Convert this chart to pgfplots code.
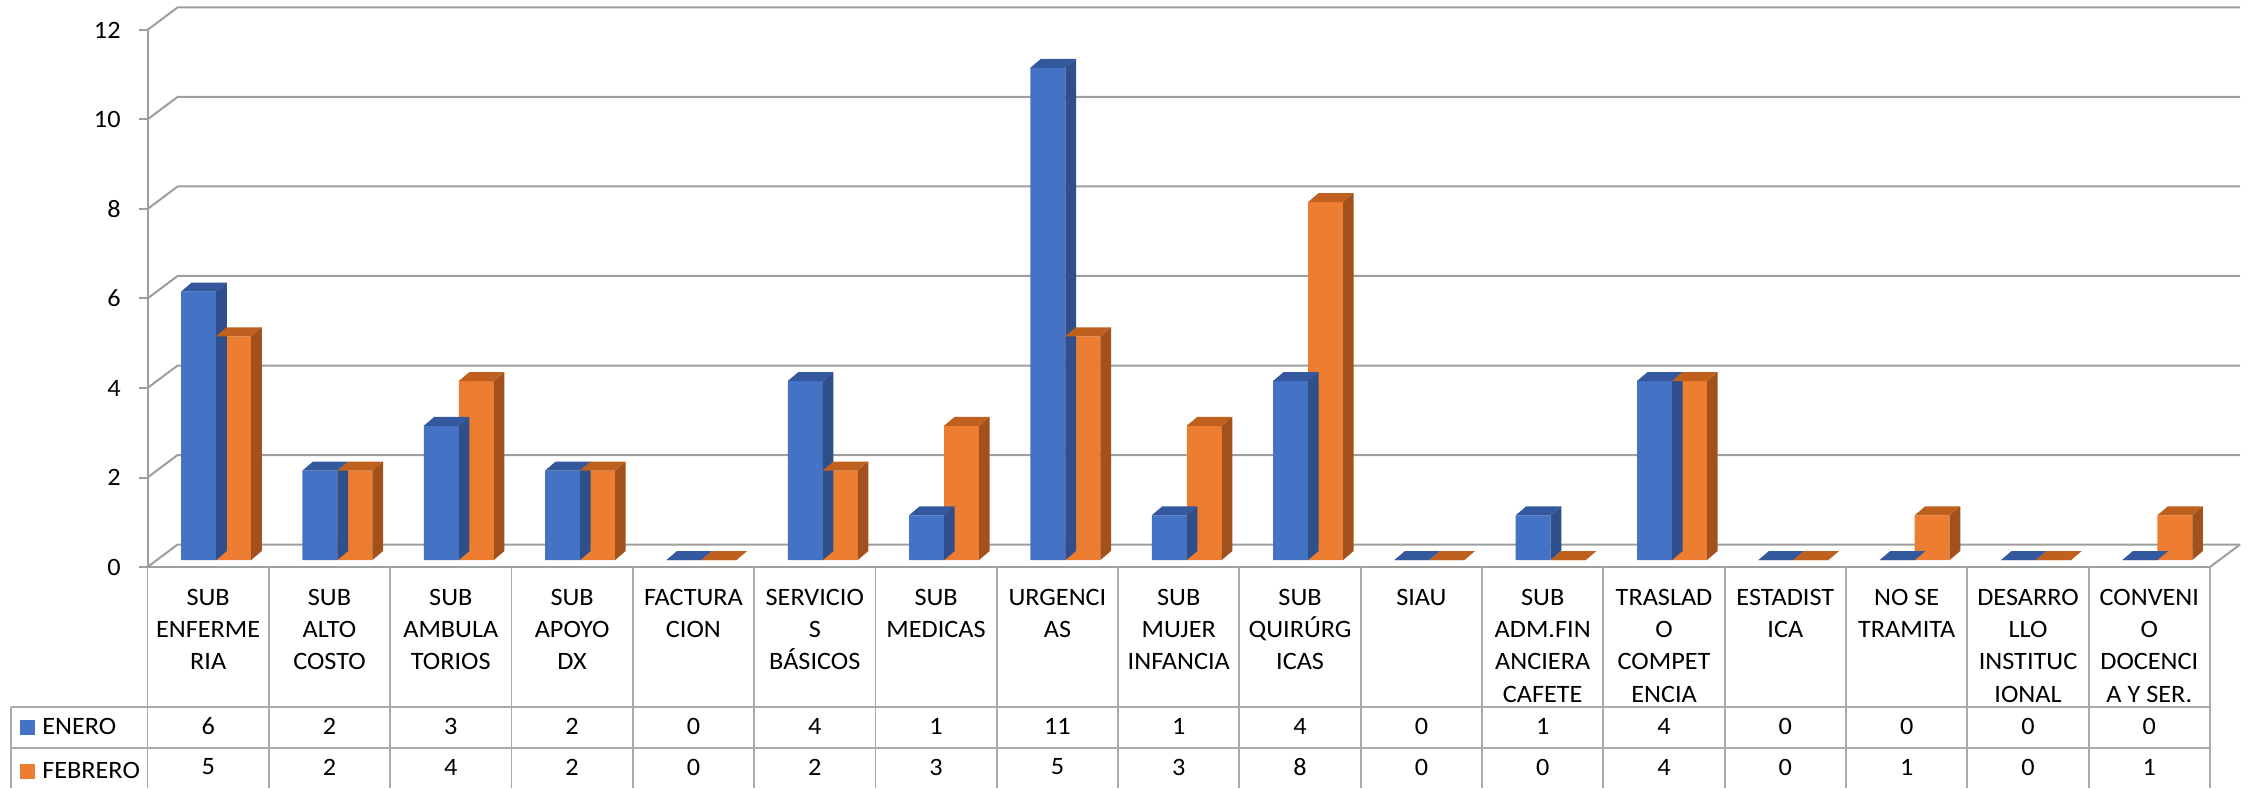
\documentclass[border=0pt]{standalone}
\usepackage{fontspec}
\setmainfont{Carlito}[FakeStretch=1.05]
\usepackage{pgfplots}
\usepackage{pgfplotstable}
\pgfplotsset{compat=1.18}
\pgfplotsset{/pgf/number format/assume math mode=true}

\definecolor{blueF}{HTML}{4472C4}
\definecolor{blueSide}{HTML}{2F4F8A}
\definecolor{blueTop}{HTML}{34589E}
\definecolor{orangeF}{HTML}{ED7D31}
\definecolor{orangeSide}{HTML}{A2511D}
\definecolor{orangeTop}{HTML}{C0601F}
\definecolor{gridgray}{HTML}{9E9E9E}
\definecolor{tabgray}{HTML}{AAAAAA}

\newcommand\cf{\fontsize{12.5}{16.2}\selectfont}

% 3D side and top faces of a bar, drawn at the data point (top of the bar)
\pgfdeclareplotmark{cubeA}{%
  \pgfmathsetmacro\hh{\hv*22.375}%
  \pgfsetfillcolor{blueSide}%
  \pgfpathmoveto{\pgfqpoint{0pt}{0pt}}%
  \pgfpathlineto{\pgfqpoint{5.3pt}{4.5pt}}%
  \pgfpathlineto{\pgfpoint{5.3pt}{4.5pt-\hh pt}}%
  \pgfpathlineto{\pgfpoint{0pt}{-\hh pt}}%
  \pgfpathclose\pgfusepath{fill}%
  \pgfsetfillcolor{blueTop}%
  \pgfpathmoveto{\pgfqpoint{-17.5pt}{0pt}}%
  \pgfpathlineto{\pgfqpoint{0pt}{0pt}}%
  \pgfpathlineto{\pgfqpoint{5.3pt}{4.5pt}}%
  \pgfpathlineto{\pgfqpoint{-12.2pt}{4.5pt}}%
  \pgfpathclose\pgfusepath{fill}%
}
\pgfdeclareplotmark{cubeB}{%
  \pgfmathsetmacro\hh{\hv*22.375}%
  \pgfsetfillcolor{orangeSide}%
  \pgfpathmoveto{\pgfqpoint{17.5pt}{0pt}}%
  \pgfpathlineto{\pgfqpoint{22.8pt}{4.5pt}}%
  \pgfpathlineto{\pgfpoint{22.8pt}{4.5pt-\hh pt}}%
  \pgfpathlineto{\pgfpoint{17.5pt}{-\hh pt}}%
  \pgfpathclose\pgfusepath{fill}%
  \pgfsetfillcolor{orangeTop}%
  \pgfpathmoveto{\pgfqpoint{0pt}{0pt}}%
  \pgfpathlineto{\pgfqpoint{17.5pt}{0pt}}%
  \pgfpathlineto{\pgfqpoint{22.8pt}{4.5pt}}%
  \pgfpathlineto{\pgfqpoint{5.3pt}{4.5pt}}%
  \pgfpathclose\pgfusepath{fill}%
}

\pgfplotstableread{
x ene feb
0.5 6 5
1.5 2 2
2.5 3 4
3.5 2 2
4.5 0 0
5.5 4 2
6.5 1 3
7.5 11 5
8.5 1 3
9.5 4 8
10.5 0 0
11.5 1 0
12.5 4 4
13.5 0 0
14.5 0 1
15.5 0 0
16.5 0 1
}\datatable

\begin{document}
\begin{tikzpicture}
\useasboundingbox (0,0) rectangle (1124.5pt,394pt);

% frame axis: front y axis, floor, back wall gridlines, category labels, table values
\begin{axis}[
  name=A, at={(73.75pt,110.5pt)}, anchor=south west,
  scale only axis, width=1031.25pt, height=268.5pt,
  xmin=0, xmax=17, ymin=0, ymax=12,
  axis x line*=bottom, axis y line*=left,
  axis line style={draw=gridgray, line width=1pt, -},
  tick align=outside, major tick length=4.25pt,
  xtick={0.5,1.5,...,16.5},
  xticklabels={{SUB\\ENFERME\\RIA},{SUB\\ALTO\\COSTO},{SUB\\AMBULA\\TORIOS},{SUB\\APOYO\\DX},
    {FACTURA\\CION},{SERVICIO\\S\\BÁSICOS},{SUB\\MEDICAS},{URGENCI\\AS},{SUB\\MUJER\\INFANCIA},
    {SUB\\QUIRÚRG\\ICAS},{SIAU},{SUB\\ADM.FIN\\ANCIERA\\CAFETE},{TRASLAD\\O\\COMPET\\ENCIA},
    {ESTADIST\\ICA},{NO SE\\TRAMITA},{DESARRO\\LLO\\INSTITUC\\IONAL},{CONVENI\\O\\DOCENCI\\A Y SER.}},
  x tick style={draw=none},
  xticklabel style={font=\cf, align=center, anchor=north, inner sep=0pt, yshift=-6.5pt},
  ytick={0,2,...,12},
  y tick style={draw=gridgray, line width=1pt},
  yticklabel style={font=\cf, inner sep=0pt, anchor=east, xshift=-9pt},
  clip=false,
]
\pgfplotsinvokeforeach{0,2,...,12}{
  \draw[gridgray, line width=1pt] (axis cs:0,#1) -- ++(15pt,11.25pt) -- ([shift={(15pt,11.25pt)}]axis cs:17,#1);
}
\draw[gridgray, line width=1pt] (axis cs:17,0) -- ++(15pt,11.25pt);
\addplot[draw=none, mark=none, nodes near coords, point meta=explicit,
  nodes near coords align={center},
  every node near coord/.append style={font=\cf, inner sep=0pt, text=black, anchor=center}]
  table[x=x, y expr=-3.564, meta=ene]{\datatable};
\addplot[draw=none, mark=none, nodes near coords, point meta=explicit,
  nodes near coords align={center},
  every node near coord/.append style={font=\cf, inner sep=0pt, text=black, anchor=center}]
  table[x=x, y expr=-4.469, meta=feb]{\datatable};
\end{axis}

% bars axis (shifted into the depth of the floor)
\begin{axis}[
  at={(77.75pt,114pt)}, anchor=south west,
  scale only axis, width=1031.25pt, height=268.5pt,
  xmin=0, xmax=17, ymin=0, ymax=12,
  hide axis, clip=false,
  legend style={at={(axis description cs:-0.0657,-0.2948)}, anchor=north west,
    draw=none, fill=none, inner sep=0pt, outer sep=0pt,
    row sep=12.3pt, column sep=3.65pt, font=\cf, nodes={inner sep=0pt}},
  legend cell align=left,
]
\addplot[ybar, bar width=17.5pt, bar shift=-8.75pt, fill=blueF, draw=none,
  legend image code/.code={\fill[blueF] (0pt,-3.75pt) rectangle (7.5pt,3.75pt);}]
  table[x=x, y=ene]{\datatable};
\addlegendentry{ENERO}
\addplot[scatter, only marks, mark=cubeA, forget plot,
  visualization depends on={\thisrow{ene} \as \hv}]
  table[x=x, y=ene]{\datatable};
\addplot[ybar, bar width=17.5pt, bar shift=8.75pt, fill=orangeF, draw=none,
  legend image code/.code={\fill[orangeF] (0pt,-3.75pt) rectangle (7.5pt,3.75pt);}]
  table[x=x, y=feb]{\datatable};
\addlegendentry{FEBRERO}
\addplot[scatter, only marks, mark=cubeB, forget plot,
  visualization depends on={\thisrow{feb} \as \hv}]
  table[x=x, y=feb]{\datatable};
\end{axis}

% data table grid
\foreach \k in {0,...,17} {
  \draw[tabgray, line width=0.9pt] ({73.75pt+\k*60.66pt},110.5pt) -- ({73.75pt+\k*60.66pt},0pt);
}
\draw[tabgray, line width=0.9pt] (5.35pt,40.65pt) -- (5.35pt,0pt);
\draw[tabgray, line width=0.9pt] (5.35pt,40.65pt) -- (1105pt,40.65pt);
\draw[tabgray, line width=0.9pt] (5.35pt,20.15pt) -- (1105pt,20.15pt);
\end{tikzpicture}
\end{document}
